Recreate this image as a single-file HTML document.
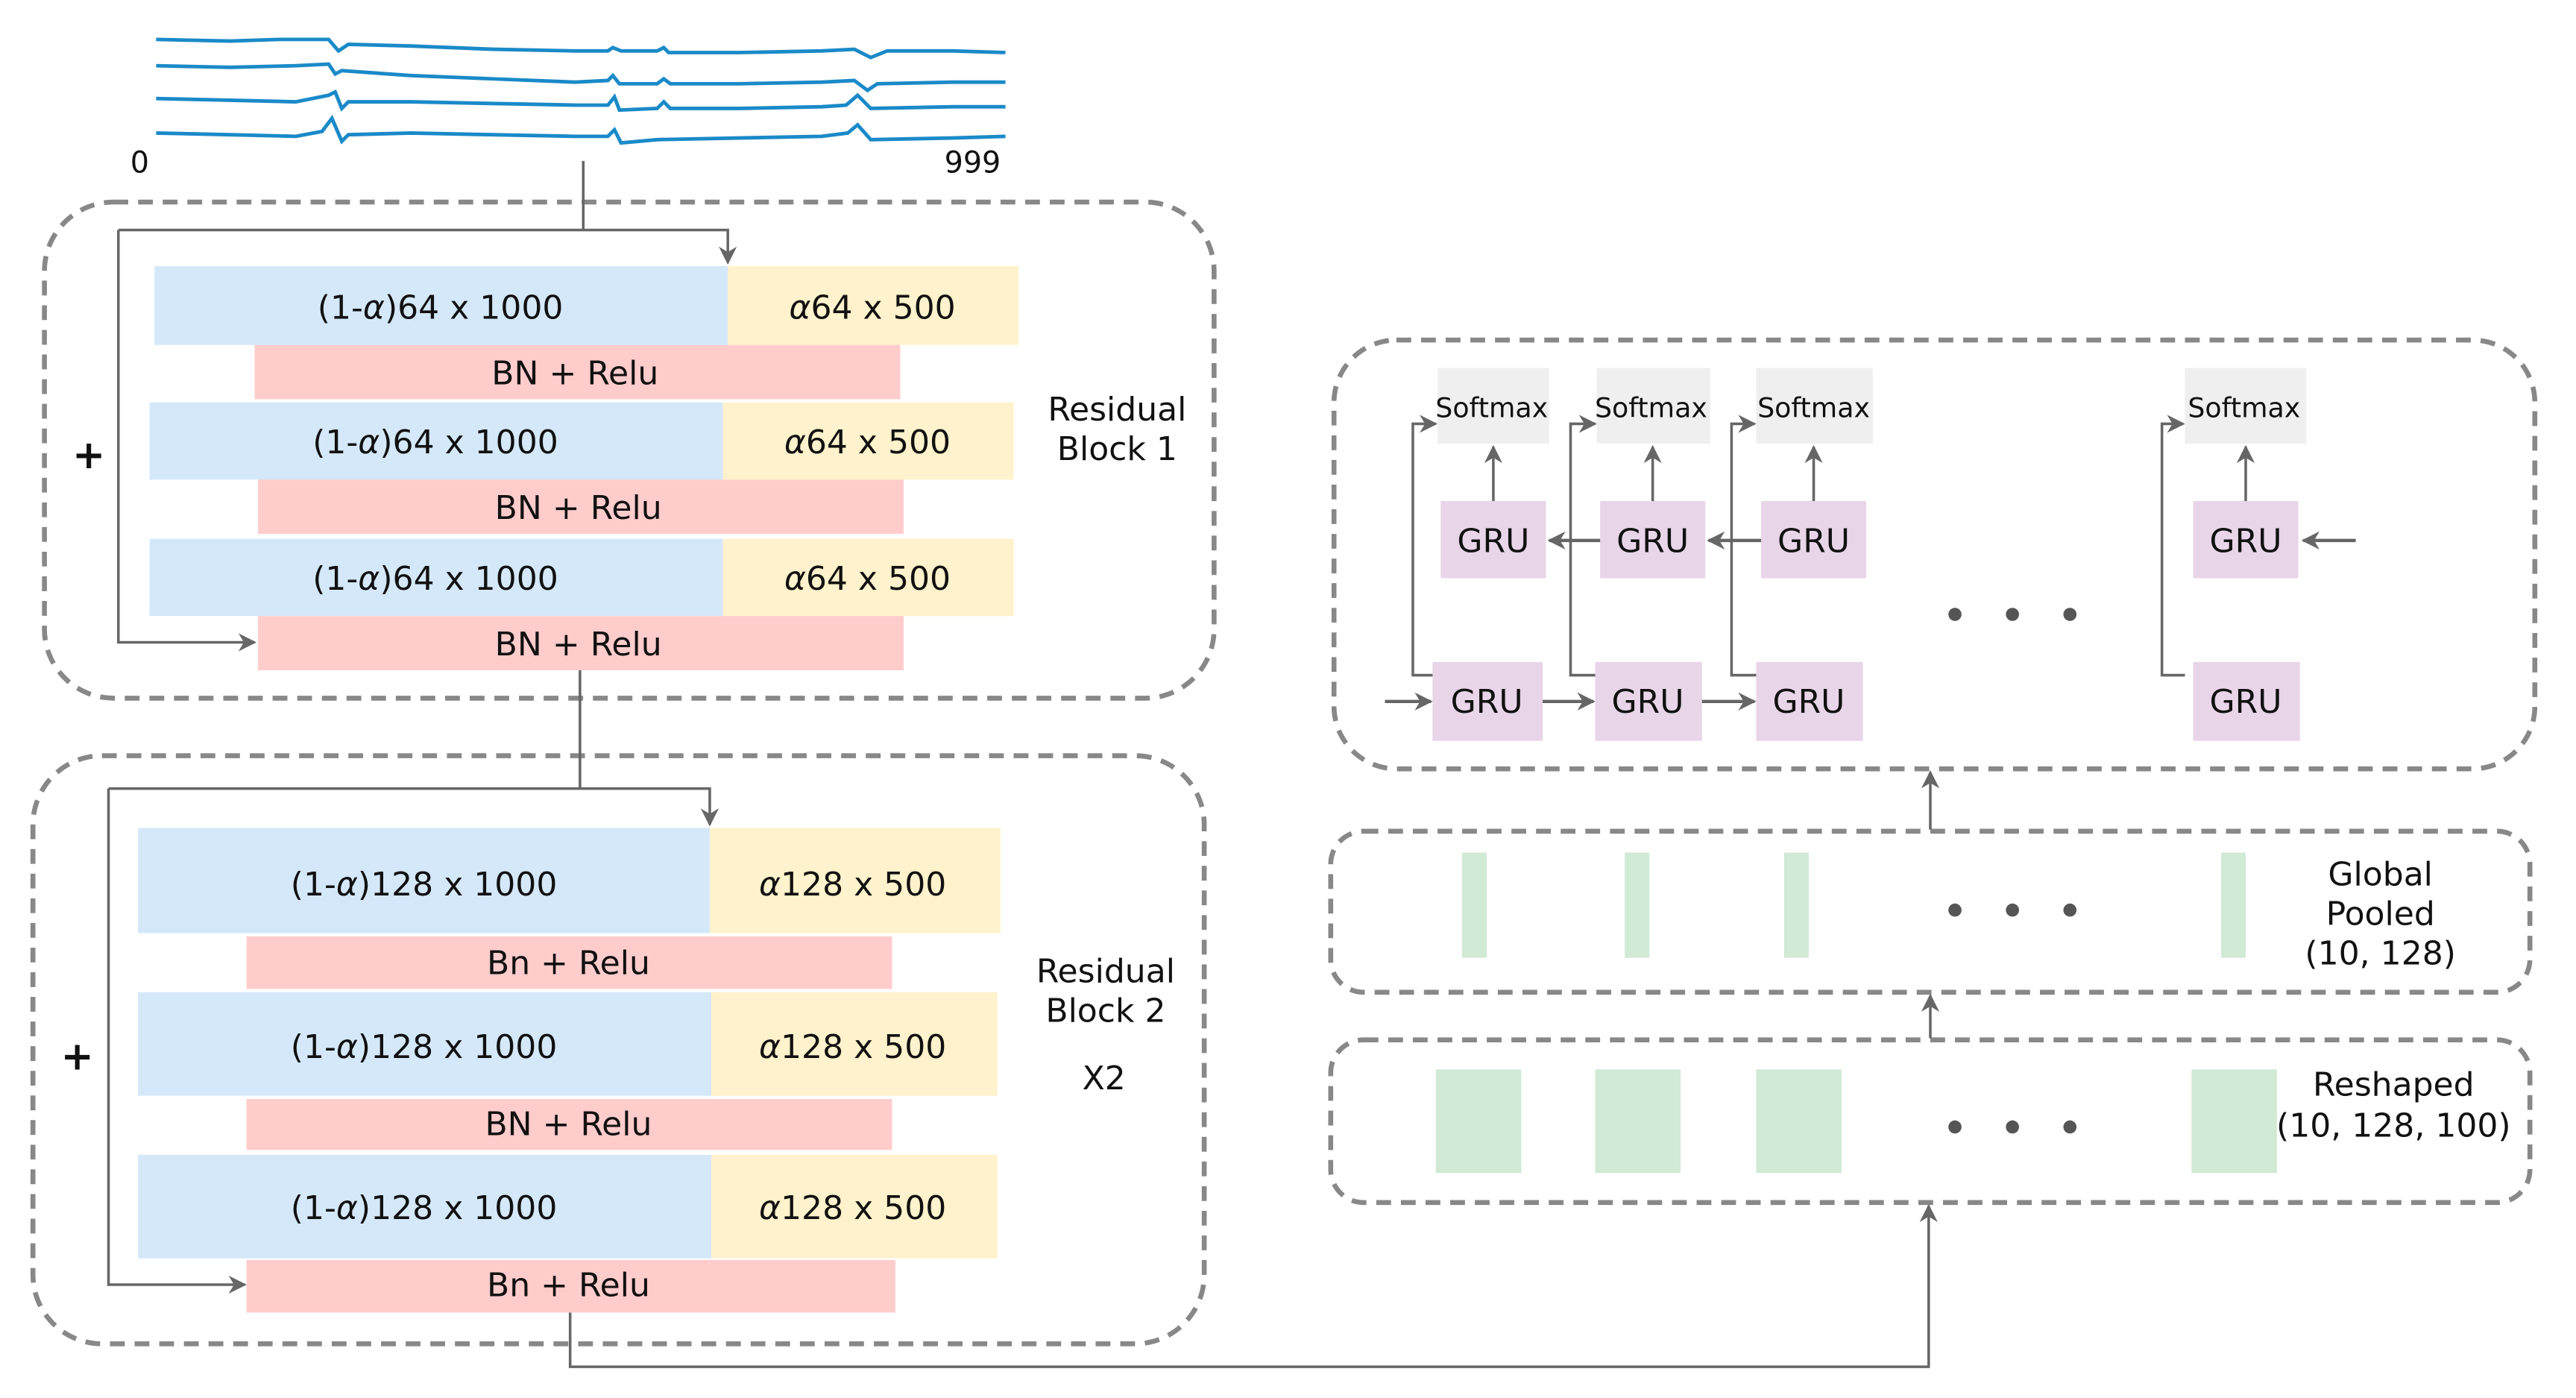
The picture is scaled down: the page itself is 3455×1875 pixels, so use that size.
<!DOCTYPE html>
<html><head><meta charset="utf-8"><style>
html,body{margin:0;padding:0;background:#fff}
svg{display:block}
text{font-family:"DejaVu Sans","Liberation Sans",sans-serif;fill:#111}
</style></head><body>
<svg width="3455" height="1875" viewBox="0 0 1568 851" xmlns="http://www.w3.org/2000/svg">
<defs>
<marker id="a" viewBox="0 0 10 10" refX="9" refY="5" markerWidth="11" markerHeight="11" orient="auto" markerUnits="userSpaceOnUse">
<path d="M0,0 L10,5 L0,10 L3,5 z" fill="#666"/></marker>
<marker id="b" viewBox="0 0 10 10" refX="9" refY="5" markerWidth="11" markerHeight="11" orient="auto" markerUnits="userSpaceOnUse">
<path d="M0,0 L10,5 L0,10 L3,5 z" fill="#666"/></marker>
</defs>
<g fill="none" stroke="#1a8ac8" stroke-width="2.2">
<path d="M95,24 L140,25 L170,24 L200,24 L206,31 L212,27 L250,28 L300,30 L350,31 L370,31 L373,29 L378,31 L400,31 L404,29 L407,32 L450,32 L500,31 L520,30 L530,35 L540,31 L580,31 L612,32"/>
<path d="M95,40 L140,41 L180,40 L200,39 L204,45 L208,43 L250,46 L300,48 L350,50 L370,49 L373,46 L377,51 L400,51 L404,48 L408,51 L450,51 L500,50 L520,49 L528,55 L534,51 L580,50 L612,50"/>
<path d="M95,60 L140,61 L180,62 L200,58 L204,56 L208,66 L212,62 L250,62 L300,63 L350,64 L370,64 L374,59 L377,67 L400,66 L404,62 L408,66 L450,66 L500,65 L515,64 L522,58 L530,66 L580,65 L612,65"/>
<path d="M95,81 L140,82 L180,83 L196,80 L202,72 L208,86 L212,82 L250,81 L300,82 L350,83 L370,83 L374,79 L378,87 L400,85 L450,84 L500,83 L516,81 L522,76 L530,85 L580,84 L612,83"/>
</g>
<text x="85" y="105" font-size="18" text-anchor="middle">0</text>
<text x="592" y="105" font-size="18" text-anchor="middle">999</text>

<g fill="none" stroke="#888" stroke-width="3" stroke-dasharray="9,6">
<rect x="27" y="123" width="712" height="302" rx="42"/>
<rect x="20" y="460" width="713" height="358" rx="42"/>
<rect x="812" y="207" width="731" height="261" rx="38"/>
<rect x="810" y="506" width="730" height="98" rx="20"/>
<rect x="810" y="633" width="730" height="99" rx="20"/>
</g>

<rect x="94" y="162" width="349" height="48" fill="#d4e8fa"/><rect x="443" y="162" width="177" height="48" fill="#fff2cc"/>
<rect x="155" y="210" width="393" height="33" fill="#ffcccc"/>
<rect x="91" y="245" width="349" height="47" fill="#d4e8fa"/><rect x="440" y="245" width="177" height="47" fill="#fff2cc"/>
<rect x="157" y="292" width="393" height="33" fill="#ffcccc"/>
<rect x="91" y="328" width="349" height="47" fill="#d4e8fa"/><rect x="440" y="328" width="177" height="47" fill="#fff2cc"/>
<rect x="157" y="375" width="393" height="33" fill="#ffcccc"/>
<g font-size="20" text-anchor="middle">
<text x="268" y="194">(1-<tspan font-style="italic">α</tspan>)64 x 1000</text>
<text x="531" y="194"><tspan font-style="italic">α</tspan>64 x 500</text>
<text x="350" y="234">BN + Relu</text>
<text x="265" y="276">(1-<tspan font-style="italic">α</tspan>)64 x 1000</text>
<text x="528" y="276"><tspan font-style="italic">α</tspan>64 x 500</text>
<text x="352" y="316">BN + Relu</text>
<text x="265" y="359">(1-<tspan font-style="italic">α</tspan>)64 x 1000</text>
<text x="528" y="359"><tspan font-style="italic">α</tspan>64 x 500</text>
<text x="352" y="399">BN + Relu</text>
<text x="680" y="256">Residual</text>
<text x="680" y="280">Block 1</text>
<text x="54" y="285" font-size="24" font-weight="bold">+</text>
</g>
<g fill="none" stroke="#666" stroke-width="1.6">
<path d="M355,98 V140"/>
<path d="M72,140 H443 V160" marker-end="url(#a)"/>
<path d="M72,140 V391 H155" marker-end="url(#a)"/>
<path d="M353,408 V480"/>
<path d="M66,480 H432 V502" marker-end="url(#a)"/>
<path d="M66,480 V782 H149" marker-end="url(#a)"/>
<path d="M347,799 V832 H1174 V734" marker-end="url(#a)"/>
</g>

<rect x="84" y="504" width="348" height="64" fill="#d4e8fa"/><rect x="432" y="504" width="177" height="64" fill="#fff2cc"/>
<rect x="150" y="570" width="393" height="32" fill="#ffcccc"/>
<rect x="84" y="604" width="349" height="63" fill="#d4e8fa"/><rect x="433" y="604" width="174" height="63" fill="#fff2cc"/>
<rect x="150" y="669" width="393" height="31" fill="#ffcccc"/>
<rect x="84" y="703" width="349" height="63" fill="#d4e8fa"/><rect x="433" y="703" width="174" height="63" fill="#fff2cc"/>
<rect x="150" y="767" width="395" height="32" fill="#ffcccc"/>
<g font-size="20" text-anchor="middle">
<text x="258" y="545">(1-<tspan font-style="italic">α</tspan>)128 x 1000</text>
<text x="519" y="545"><tspan font-style="italic">α</tspan>128 x 500</text>
<text x="346" y="593">Bn + Relu</text>
<text x="258" y="644">(1-<tspan font-style="italic">α</tspan>)128 x 1000</text>
<text x="519" y="644"><tspan font-style="italic">α</tspan>128 x 500</text>
<text x="346" y="691">BN + Relu</text>
<text x="258" y="742">(1-<tspan font-style="italic">α</tspan>)128 x 1000</text>
<text x="519" y="742"><tspan font-style="italic">α</tspan>128 x 500</text>
<text x="346" y="789">Bn + Relu</text>
<text x="673" y="598">Residual</text>
<text x="673" y="622">Block 2</text>
<text x="672" y="663">X2</text>
<text x="47" y="651" font-size="24" font-weight="bold">+</text>
</g>

<g fill="#efefef">
<rect x="875" y="224" width="68" height="46"/><rect x="972" y="224" width="69" height="46"/>
<rect x="1069" y="224" width="71" height="46"/><rect x="1330" y="224" width="74" height="46"/>
</g>
<g fill="#e8d5e8">
<rect x="877" y="305" width="64" height="47"/><rect x="974" y="305" width="64" height="47"/>
<rect x="1072" y="305" width="64" height="47"/><rect x="1335" y="305" width="64" height="47"/>
<rect x="872" y="403" width="67" height="48"/><rect x="971" y="403" width="65" height="48"/>
<rect x="1069" y="403" width="65" height="48"/><rect x="1335" y="403" width="65" height="48"/>
</g>
<g font-size="16.5" text-anchor="middle">
<text x="908" y="254">Softmax</text><text x="1005" y="254">Softmax</text>
<text x="1104" y="254">Softmax</text><text x="1366" y="254">Softmax</text>
</g>
<g font-size="20" text-anchor="middle">
<text x="909" y="336">GRU</text><text x="1006" y="336">GRU</text>
<text x="1104" y="336">GRU</text><text x="1367" y="336">GRU</text>
<text x="905" y="434">GRU</text><text x="1003" y="434">GRU</text>
<text x="1101" y="434">GRU</text><text x="1367" y="434">GRU</text>
</g>
<g fill="none" stroke="#666" stroke-width="1.6">
<path d="M909,305 V272" marker-end="url(#b)"/>
<path d="M1006,305 V272" marker-end="url(#b)"/>
<path d="M1104,305 V272" marker-end="url(#b)"/>
<path d="M1367,305 V272" marker-end="url(#b)"/>
<path d="M1072,329 H1040" stroke-width="2" marker-end="url(#b)"/>
<path d="M974,329 H943" stroke-width="2" marker-end="url(#b)"/>
<path d="M1434,329 H1402" stroke-width="2" marker-end="url(#b)"/>
<path d="M843,427 H871" stroke-width="2" marker-end="url(#b)"/>
<path d="M939,427 H970" stroke-width="2" marker-end="url(#b)"/>
<path d="M1036,427 H1068" stroke-width="2" marker-end="url(#b)"/>
<path d="M872,411 H860 V258 H874" marker-end="url(#b)"/>
<path d="M971,411 H956 V258 H971" marker-end="url(#b)"/>
<path d="M1069,411 H1054 V258 H1068" marker-end="url(#b)"/>
<path d="M1330,411 H1316 V258 H1329" marker-end="url(#b)"/>
<path d="M1175,505 V470" marker-end="url(#b)"/>
<path d="M1175,632 V606" marker-end="url(#b)"/>
</g>
<g fill="#555">
<circle cx="1190" cy="374" r="4"/><circle cx="1225" cy="374" r="4"/><circle cx="1260" cy="374" r="4"/>
<circle cx="1190" cy="554" r="4"/><circle cx="1225" cy="554" r="4"/><circle cx="1260" cy="554" r="4"/>
<circle cx="1190" cy="686" r="4"/><circle cx="1225" cy="686" r="4"/><circle cx="1260" cy="686" r="4"/>
</g>
<g fill="#d0ead5">
<rect x="890" y="519" width="15" height="64"/><rect x="989" y="519" width="15" height="64"/>
<rect x="1086" y="519" width="15" height="64"/><rect x="1352" y="519" width="15" height="64"/>
<rect x="874" y="651" width="52" height="63"/><rect x="971" y="651" width="52" height="63"/>
<rect x="1069" y="651" width="52" height="63"/><rect x="1334" y="651" width="52" height="63"/>
</g>
<g font-size="20" text-anchor="middle">
<text x="1449" y="539">Global</text>
<text x="1449" y="563">Pooled</text>
<text x="1449" y="587">(10, 128)</text>
<text x="1457" y="667">Reshaped</text>
<text x="1457" y="692">(10, 128, 100)</text>
</g>
</svg>
</body></html>
